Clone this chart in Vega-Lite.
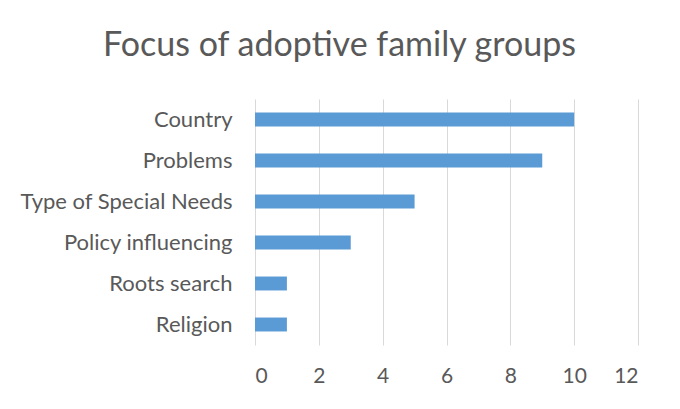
{
  "$schema": "https://vega.github.io/schema/vega-lite/v6.json",
  "autosize": {"type": "none"},
  "width": 383,
  "height": 246,
  "padding": {"left": 255, "top": 99, "right": 42, "bottom": 64},
  "background": "#ffffff",
  "title": {
    "text": "Focus of adoptive family groups",
    "font": "Lato",
    "fontSize": 34,
    "fontWeight": "normal",
    "color": "#595959",
    "anchor": "middle",
    "dx": -107,
    "offset": 36
  },
  "data": {
    "values": [
      {"focus": "Country", "count": 10},
      {"focus": "Problems", "count": 9},
      {"focus": "Type of Special Needs", "count": 5},
      {"focus": "Policy influencing", "count": 3},
      {"focus": "Roots search", "count": 1},
      {"focus": "Religion", "count": 1}
    ]
  },
  "mark": {"type": "bar", "color": "#5b9bd5"},
  "encoding": {
    "y": {
      "field": "focus",
      "type": "nominal",
      "sort": null,
      "scale": {"paddingInner": 0.66, "paddingOuter": 0.33},
      "axis": {
        "title": null,
        "domain": false,
        "ticks": false,
        "labelPadding": 23,
        "labelLimit": 400,
        "labelFont": "Lato",
        "labelFontSize": 22,
        "labelColor": "#595959"
      }
    },
    "x": {
      "field": "count",
      "type": "quantitative",
      "scale": {"domain": [0, 12]},
      "axis": {
        "title": null,
        "values": [0, 2, 4, 6, 8, 10, 12],
        "domain": false,
        "ticks": false,
        "grid": true,
        "gridColor": "#d9d9d9",
        "gridWidth": 1,
        "labelPadding": 20,
        "labelFont": "Lato",
        "labelFontSize": 21,
        "labelColor": "#595959"
      }
    }
  },
  "config": {"view": {"stroke": null}}
}
